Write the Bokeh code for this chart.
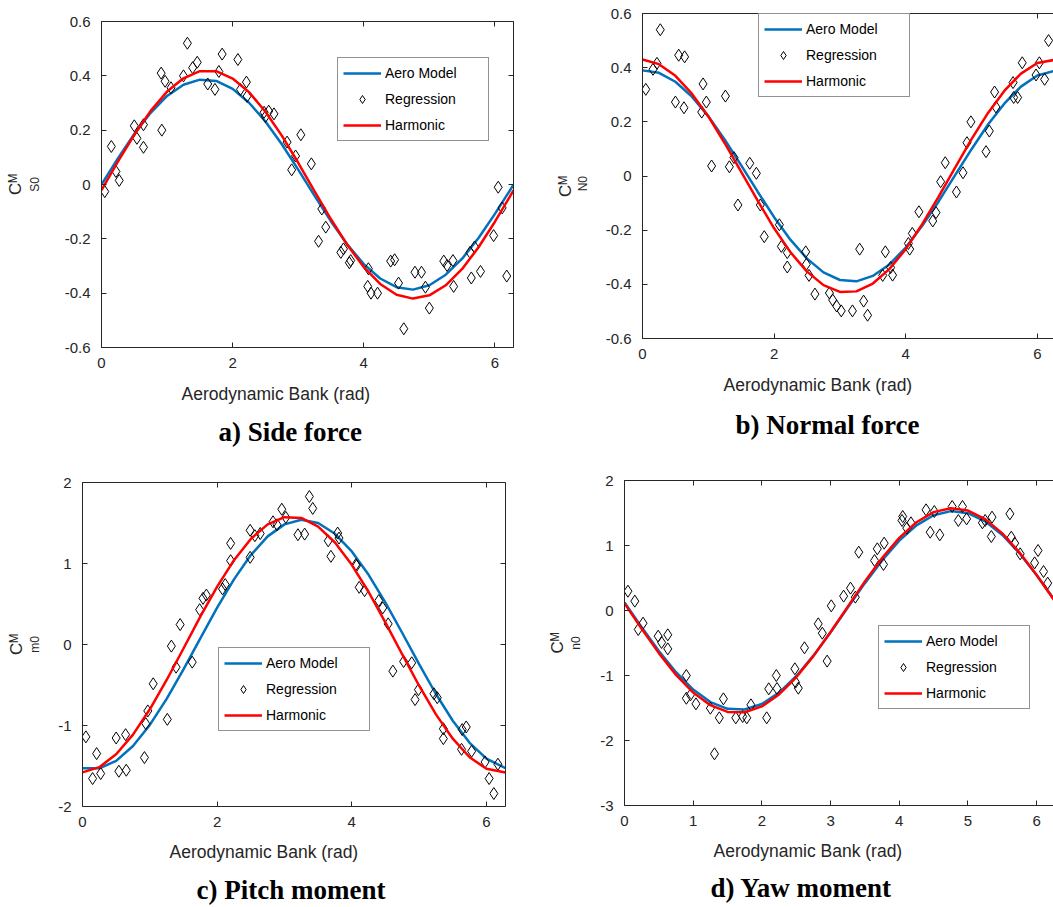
from math import pi

from bokeh.embed import file_html
from bokeh.layouts import column, row
from bokeh.models import FixedTicker, Legend, LegendItem, LinearAxis, Range1d, Title
from bokeh.plotting import figure
from bokeh.resources import INLINE

INK = "#262626"
BLUE = "#0072BD"
RED = "#FF0000"
SANS = "Liberation Sans"
SERIF = "Liberation Serif"

# ---------------------------------------------------------------- data
# aerodynamic bank angle (rad) at which the model curves are sampled
bank = [0.0, 0.25, 0.5, 0.75, 1.0, 1.25, 1.5, 1.75, 2.0, 2.25, 2.5, 2.75, 3.0,
        3.25, 3.5, 3.75, 4.0, 4.25, 4.5, 4.75, 5.0, 5.25, 5.5, 5.75, 6.0, 6.283]

# a) side force
side_aero = [0.000, 0.096, 0.186, 0.264, 0.326, 0.367, 0.386, 0.381, 0.352, 0.301, 0.232, 0.148, 0.055,
             -0.042, -0.136, -0.221, -0.293, -0.346, -0.378, -0.387, -0.371, -0.332, -0.273, -0.197, -0.108, -0.001]
side_harm = [-0.021, 0.084, 0.183, 0.271, 0.342, 0.391, 0.417, 0.417, 0.390, 0.340, 0.268, 0.180, 0.080,
             -0.025, -0.128, -0.223, -0.304, -0.366, -0.406, -0.420, -0.408, -0.371, -0.311, -0.231, -0.137, -0.022]
side_reg_x = [0.05, 0.15, 0.22, 0.27, 0.50, 0.54, 0.64, 0.64,
              0.91, 0.92, 0.97, 1.06, 1.25, 1.31, 1.39, 1.46,
              1.62, 1.73, 1.79, 1.84, 2.08, 2.12, 2.21, 2.22,
              2.48, 2.50, 2.55, 2.63, 2.83, 2.90, 2.96, 3.04,
              3.20, 3.31, 3.36, 3.42, 3.65, 3.69, 3.78, 3.80,
              4.07, 4.06, 4.11, 4.21, 4.41, 4.47, 4.53, 4.61,
              4.78, 4.88, 4.94, 5.00, 5.22, 5.27, 5.36, 5.37,
              5.62, 5.64, 5.69, 5.78, 5.98, 6.05, 6.11, 6.18]
side_reg_y = [-0.026, 0.140, 0.048, 0.015, 0.216, 0.170, 0.220, 0.137,
              0.410, 0.200, 0.380, 0.356, 0.400, 0.520, 0.430, 0.450,
              0.370, 0.350, 0.416, 0.480, 0.460, 0.350, 0.377, 0.325,
              0.266, 0.250, 0.270, 0.260, 0.156, 0.054, 0.105, 0.183,
              0.076, -0.209, -0.090, -0.157, -0.250, -0.237, -0.288, -0.280,
              -0.310, -0.375, -0.400, -0.400, -0.282, -0.277, -0.363, -0.531,
              -0.323, -0.323, -0.378, -0.455, -0.282, -0.298, -0.280, -0.375,
              -0.250, -0.344, -0.230, -0.320, -0.188, -0.010, -0.086, -0.337]

# b) normal force
normal_aero = [0.390, 0.381, 0.348, 0.293, 0.221, 0.134, 0.039, -0.058, -0.152, -0.236, -0.305, -0.356, -0.384,
               -0.389, -0.369, -0.327, -0.264, -0.184, -0.094, 0.003, 0.099, 0.190, 0.268, 0.330, 0.371, 0.390]
normal_harm = [0.430, 0.413, 0.370, 0.304, 0.220, 0.121, 0.015, -0.091, -0.193, -0.282, -0.353, -0.403, -0.428,
               -0.426, -0.397, -0.344, -0.270, -0.178, -0.076, 0.031, 0.136, 0.233, 0.315, 0.378, 0.417, 0.430]
normal_reg_x = [0.05, 0.16, 0.22, 0.27, 0.50, 0.55, 0.63, 0.64,
                0.90, 0.92, 0.97, 1.05, 1.26, 1.32, 1.39, 1.45,
                1.63, 1.73, 1.79, 1.85, 2.08, 2.11, 2.20, 2.20,
                2.48, 2.49, 2.53, 2.62, 2.84, 2.89, 2.95, 3.02,
                3.19, 3.30, 3.36, 3.42, 3.65, 3.69, 3.77, 3.80,
                4.04, 4.06, 4.10, 4.20, 4.41, 4.46, 4.53, 4.60,
                4.77, 4.87, 4.93, 4.99, 5.22, 5.27, 5.35, 5.37,
                5.63, 5.64, 5.70, 5.77, 5.98, 6.03, 6.11, 6.17]
normal_reg_y = [0.320, 0.394, 0.416, 0.540, 0.273, 0.446, 0.252, 0.440,
                0.236, 0.340, 0.273, 0.037, 0.295, 0.034, 0.068, -0.107,
                0.047, 0.010, -0.107, -0.224, -0.180, -0.260, -0.283, -0.336,
                -0.280, -0.326, -0.367, -0.436, -0.432, -0.458, -0.480, -0.498,
                -0.498, -0.270, -0.462, -0.514, -0.367, -0.280, -0.338, -0.366,
                -0.249, -0.270, -0.212, -0.132, -0.166, -0.135, -0.021, 0.049,
                -0.059, 0.012, 0.123, 0.200, 0.090, 0.166, 0.310, 0.255,
                0.345, 0.290, 0.290, 0.418, 0.373, 0.418, 0.357, 0.500]

# c) pitch moment
pitch_aero = [-1.527, -1.529, -1.436, -1.253, -0.993, -0.671, -0.307, 0.076, 0.454, 0.804, 1.104, 1.335, 1.483,
              1.540, 1.500, 1.367, 1.149, 0.860, 0.517, 0.142, -0.242, -0.611, -0.941, -1.214, -1.410, -1.526]
pitch_harm = [-1.579, -1.514, -1.355, -1.112, -0.800, -0.438, -0.049, 0.344, 0.714, 1.041, 1.303, 1.483, 1.572,
              1.563, 1.456, 1.259, 0.984, 0.648, 0.271, -0.123, -0.509, -0.863, -1.163, -1.392, -1.534, -1.579]
pitch_reg_x = [0.05, 0.15, 0.21, 0.27, 0.50, 0.54, 0.64, 0.65,
               0.92, 0.94, 0.97, 1.05, 1.26, 1.32, 1.39, 1.45,
               1.63, 1.74, 1.79, 1.84, 2.08, 2.12, 2.20, 2.20,
               2.49, 2.49, 2.56, 2.64, 2.83, 2.89, 2.96, 3.02,
               3.20, 3.30, 3.37, 3.42, 3.65, 3.69, 3.79, 3.81,
               4.06, 4.07, 4.11, 4.19, 4.40, 4.46, 4.54, 4.61,
               4.77, 4.89, 4.94, 4.99, 5.22, 5.27, 5.36, 5.36,
               5.63, 5.64, 5.70, 5.78, 5.98, 6.04, 6.11, 6.17]
pitch_reg_y = [-1.140, -1.655, -1.347, -1.593, -1.154, -1.565, -1.113, -1.552,
               -1.396, -0.977, -0.820, -0.485, -0.924, -0.020, -0.280, 0.246,
               -0.218, 0.430, 0.570, 0.610, 0.686, 0.740, 1.035, 1.248,
               1.076, 1.410, 1.343, 1.370, 1.515, 1.478, 1.670, 1.570,
               1.355, 1.363, 1.827, 1.680, 1.280, 1.088, 1.376, 1.314,
               0.986, 0.973, 0.706, 0.665, 0.542, 0.452, 0.255, -0.329,
               -0.210, -0.226, -0.680, -0.558, -0.608, -0.657, -1.040, -1.162,
               -1.294, -1.050, -1.018, -1.318, -1.450, -1.655, -1.840, -1.478]

# d) yaw moment
yaw_aero = [0.122, -0.259, -0.624, -0.950, -1.217, -1.409, -1.513, -1.523, -1.438, -1.263, -1.011, -0.695, -0.336,
            0.044, 0.421, 0.771, 1.074, 1.310, 1.465, 1.529, 1.497, 1.373, 1.162, 0.880, 0.543, 0.127]
yaw_harm = [0.110, -0.282, -0.656, -0.990, -1.263, -1.456, -1.560, -1.566, -1.475, -1.292, -1.028, -0.702, -0.331,
            0.060, 0.448, 0.808, 1.117, 1.357, 1.513, 1.574, 1.538, 1.406, 1.187, 0.893, 0.545, 0.115]
yaw_reg_x = [0.05, 0.15, 0.20, 0.27, 0.49, 0.54, 0.63, 0.63,
             0.90, 0.90, 0.96, 1.04, 1.25, 1.31, 1.38, 1.44,
             1.62, 1.72, 1.78, 1.84, 2.07, 2.10, 2.21, 2.22,
             2.48, 2.49, 2.53, 2.62, 2.82, 2.88, 2.95, 3.01,
             3.19, 3.29, 3.36, 3.41, 3.64, 3.68, 3.77, 3.78,
             4.04, 4.05, 4.11, 4.17, 4.39, 4.45, 4.51, 4.59,
             4.77, 4.86, 4.92, 4.98, 5.21, 5.25, 5.35, 5.34,
             5.61, 5.63, 5.68, 5.76, 5.97, 6.02, 6.10, 6.16]
yaw_reg_y = [0.297, 0.144, -0.292, -0.195, -0.395, -0.492, -0.374, -0.590,
             -1.000, -1.350, -1.297, -1.436, -1.503, -2.205, -1.651, -1.359,
             -1.651, -1.630, -1.651, -1.451, -1.651, -1.205, -1.000, -1.200,
             -0.897, -1.103, -1.195, -0.574, -0.205, -0.349, -0.779, 0.072,
             0.221, 0.344, 0.205, 0.897, 0.769, 0.949, 0.708, 1.036,
             1.385, 1.446, 1.267, 1.349, 1.549, 1.205, 1.523, 1.164,
             1.600, 1.385, 1.600, 1.410, 1.349, 1.385, 1.436, 1.138,
             1.487, 1.128, 1.036, 0.872, 0.733, 0.923, 0.600, 0.421]

# tick values and their printed labels
ticks_x_even = [0, 2, 4, 6]
labels_x_even = ["0", "2", "4", "6"]
ticks_x_unit = [0, 1, 2, 3, 4, 5, 6]
labels_x_unit = ["0", "1", "2", "3", "4", "5", "6"]
ticks_force = [-0.6, -0.4, -0.2, 0, 0.2, 0.4, 0.6]
labels_force = ["-0.6", "-0.4", "-0.2", "0", "0.2", "0.4", "0.6"]
ticks_pitch = [-2, -1, 0, 1, 2]
labels_pitch = ["-2", "-1", "0", "1", "2"]
ticks_yaw = [-3, -2, -1, 0, 1, 2]
labels_yaw = ["-3", "-2", "-1", "0", "1", "2"]

series_names = ["Aero Model", "Regression", "Harmonic"]
x_title = "Aerodynamic Bank (rad)"
y_symbol = "C\u1d39"          # C with superscript M


# ---------------------------------------------------------------- helpers
def style_axis(ax, ticks, labels, show_labels, standoff):
    ax.ticker = FixedTicker(ticks=ticks)
    ax.major_label_overrides = dict(zip(ticks, labels))
    ax.axis_line_color = INK
    ax.axis_line_width = 1
    ax.major_tick_line_color = INK
    ax.major_tick_line_width = 1
    ax.major_tick_in = 5
    ax.major_tick_out = 0
    ax.minor_tick_line_color = None
    ax.major_label_text_font = SANS
    if show_labels:
        ax.major_label_text_color = INK
        ax.major_label_text_font_size = "15px"
        ax.major_label_standoff = standoff
    else:
        # box edge only: ticks without numbers
        ax.major_label_text_color = None
        ax.major_label_text_font_size = "1px"
        ax.major_label_standoff = 0


def label_only_axis(text, size, standoff, orientation):
    # an axis that shows nothing but its axis label
    ax = LinearAxis(ticker=FixedTicker(ticks=[]), axis_line_color=None,
                    major_tick_line_color=None, minor_tick_line_color=None,
                    major_label_text_color=None, major_label_text_font_size="1px",
                    major_label_standoff=0, major_tick_in=0, major_tick_out=0,
                    axis_label=text, axis_label_standoff=standoff,
                    axis_label_orientation=orientation,
                    axis_label_text_font=SANS, axis_label_text_font_size=size,
                    axis_label_text_font_style="normal", axis_label_text_color=INK)
    return ax


def add_title(p, side, text, size, align, valign, offset, standoff,
              font=SANS, color=INK, style="normal"):
    p.add_layout(Title(text=text, align=align, vertical_align=valign, offset=offset,
                       standoff=standoff, text_font=font, text_font_size=size,
                       text_font_style=style, text_color=color), side)


def make_panel(width, height, borders, x_end, y_lim, x_ticks, x_labels, y_ticks, y_labels,
               aero, harm, reg_x, reg_y, legend_loc, sub, sub_standoff,
               xlabel_offset, xlabel_standoff, caption, caption_offset, caption_standoff,
               box_right, orientation):
    left, right, top, bottom = borders
    p = figure(width=width, height=height, output_backend="svg", toolbar_location=None,
               x_range=Range1d(0, x_end), y_range=Range1d(*y_lim),
               min_border_left=left, min_border_right=right,
               min_border_top=top, min_border_bottom=bottom,
               background_fill_color="white", border_fill_color="white")
    p.grid.visible = False
    p.outline_line_color = None

    style_axis(p.xaxis[0], x_ticks, x_labels, True, 10)
    style_axis(p.yaxis[0], y_ticks, y_labels, True, 11)
    top_axis = LinearAxis()
    style_axis(top_axis, x_ticks, x_labels, False, 0)
    p.add_layout(top_axis, "above")
    if box_right:
        right_axis = LinearAxis()
        style_axis(right_axis, y_ticks, y_labels, False, 0)
        p.add_layout(right_axis, "right")

    # y label: subscript on the tick axis, C with superscript M further out
    yax = p.yaxis[0]
    yax.axis_label = sub
    yax.axis_label_standoff = sub_standoff
    yax.axis_label_orientation = orientation
    yax.axis_label_text_font = SANS
    yax.axis_label_text_font_size = "12px"
    yax.axis_label_text_font_style = "normal"
    yax.axis_label_text_color = INK
    p.add_layout(label_only_axis(y_symbol, "17px", 0, orientation), "left")

    r_aero = p.line(bank, aero, line_color=BLUE, line_width=2.5)
    r_reg = p.scatter(reg_x, reg_y, marker="diamond", size=12, line_color="black",
                      line_width=1, fill_color=None)
    r_harm = p.line(bank, harm, line_color=RED, line_width=2.5)

    legend = Legend(
        items=[LegendItem(label=series_names[0], renderers=[r_aero]),
               LegendItem(label=series_names[1], renderers=[r_reg]),
               LegendItem(label=series_names[2], renderers=[r_harm])],
        location=legend_loc, orientation="vertical",
        border_line_color=INK, border_line_width=1,
        background_fill_color="white", background_fill_alpha=1.0,
        label_text_font=SANS, label_text_font_size="14px", label_text_color="black",
        glyph_width=38, glyph_height=20, spacing=6, padding=5, label_standoff=4,
        label_width=98, margin=0)
    p.add_layout(legend)

    # x label and panel caption below the axis
    add_title(p, "below", x_title, "17.5px", "left", "bottom", xlabel_offset, xlabel_standoff)
    add_title(p, "below", caption, "27px", "left", "middle", caption_offset, caption_standoff,
              font=SERIF, color="black", style="bold")
    return p


# ---------------------------------------------------------------- panels
pa = make_panel(530, 460, (101, 17, 21, 113), 2 * pi, (-0.6, 0.6),
                ticks_x_even, labels_x_even, ticks_force, labels_force,
                side_aero, side_harm, side_reg_x, side_reg_y, (236, 206),
                "S0", 20, 80, 23, "a) Side force", 117, 0, True, "vertical")

pb = make_panel(523, 460, (112, 0, 13, 122), 6.245, (-0.6, 0.6),
                ticks_x_even, labels_x_even, ticks_force, labels_force,
                normal_aero, normal_harm, normal_reg_x, normal_reg_y, (116, 241),
                "N0", 20, 81, 22, "b) Normal force", 93, 6, False, pi / 2)

pc = make_panel(530, 447, (82, 25, 22, 101), 2 * pi, (-2, 2),
                ticks_x_even, labels_x_even, ticks_pitch, labels_pitch,
                pitch_aero, pitch_harm, pitch_reg_x, pitch_reg_y, (136, 75),
                "m0", 13, 87, 21, "c) Pitch moment", 114, 2, True, "parallel")

pd = make_panel(523, 447, (94, 0, 20, 102), 6.245, (-3, 2),
                ticks_x_unit, labels_x_unit, ticks_yaw, labels_yaw,
                yaw_aero, yaw_harm, yaw_reg_x, yaw_reg_y, (254, 96),
                "n0", 14, 89, 21, "d) Yaw moment", 86, 0, False, "parallel")

# each panel sits in its own column so the panels keep their own frame margins
layout = column(row(column(pa), column(pb)), row(column(pc), column(pd)))

with open("out.html", "w") as fh:
    fh.write(file_html(layout, INLINE, title="Aerodynamic coefficients vs bank angle"))
